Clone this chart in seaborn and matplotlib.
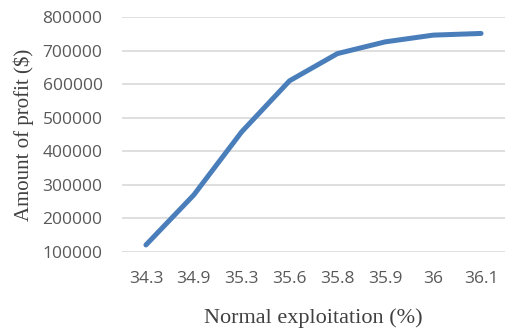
import matplotlib
matplotlib.use("Agg")
import matplotlib.pyplot as plt
import seaborn as sns
import pandas as pd

categories = ["34.3", "34.9", "35.3", "35.6", "35.8", "35.9", "36", "36.1"]
profit = [121000, 270000, 458000, 610000, 691000, 726000, 746000, 751000]
yticks = [100000, 200000, 300000, 400000, 500000, 600000, 700000, 800000]

sns.set_theme(style="white")
plt.rcParams["font.family"] = ["Open Sans", "DejaVu Sans"]

df = pd.DataFrame({"x": categories, "y": profit})

fig = plt.figure(figsize=(5.05, 3.31), dpi=100)
ax = fig.add_axes([122 / 505, 1 - 252 / 331, (505 - 122) / 505, (252 - 17) / 331])

sns.lineplot(data=df, x="x", y="y", ax=ax, color="#4a7ebb", linewidth=3.6,
             solid_capstyle="round", sort=False)

ax.set_ylim(100000, 800000)
ax.set_yticks(yticks)
ax.set_yticklabels([str(v) for v in yticks])
ax.set_xlim(-0.5, len(categories) - 0.5)
ax.grid(axis="y", color="#d9d9d9", linewidth=1.2)
ax.set_axisbelow(True)
for s in ax.spines.values():
    s.set_visible(False)
ax.tick_params(axis="both", length=0, labelsize=12.5, labelcolor="#595959")
ax.tick_params(axis="y", pad=14)
ax.tick_params(axis="x", pad=14)

serif = ["Liberation Serif", "DejaVu Serif"]
ax.set_xlabel("Normal exploitation (%)", family=serif, fontsize=16, color="#404040", labelpad=15)
ax.set_ylabel("Amount of profit ($)", family=serif, fontsize=15, color="#404040", labelpad=6)

fig.savefig("out.png", dpi=100)
